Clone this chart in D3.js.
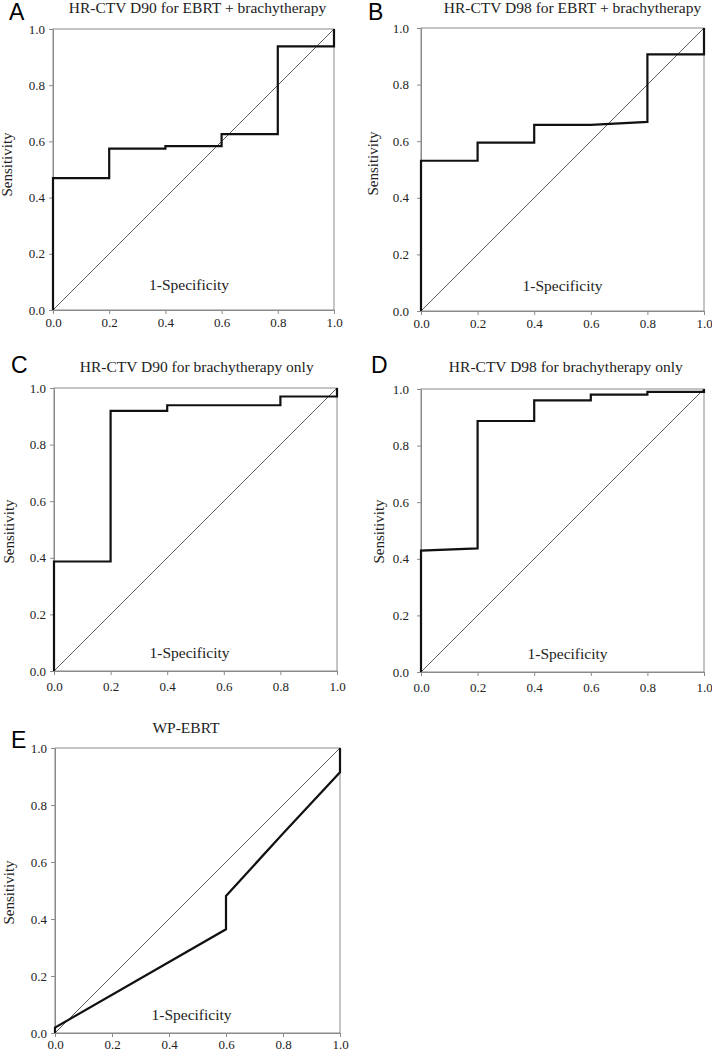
<!DOCTYPE html>
<html><head><meta charset="utf-8">
<script src="https://cdn.jsdelivr.net/npm/d3@7"></script>
<style>body{margin:0;background:#fff} svg{display:block}</style>
</head><body><svg id="c" width="712" height="1053"></svg>
<script>
// ---- data ----
const panelLetters = ["A", "B", "C", "D", "E"];
const panelTitles = [
  "HR-CTV D90 for EBRT + brachytherapy",
  "HR-CTV D98 for EBRT + brachytherapy",
  "HR-CTV D90 for brachytherapy only",
  "HR-CTV D98 for brachytherapy only",
  "WP-EBRT"
];
const yLabel = "Sensitivity";
const xLabel = "1-Specificity";
const tickValues = [0, 0.2, 0.4, 0.6, 0.8, 1.0];
const referenceLine = [[0, 0], [1, 1]];

const rocA = [[0,0],[0,0.469],[0.2,0.469],[0.2,0.574],[0.4,0.574],[0.4,0.583],[0.6,0.583],[0.6,0.626],[0.8,0.626],[0.8,0.938],[1,0.938],[1,1]];
const rocB = [[0,0],[0,0.531],[0.2,0.531],[0.2,0.595],[0.4,0.595],[0.4,0.658],[0.6,0.658],[0.8,0.668],[0.8,0.907],[1,0.907],[1,1]];
const rocC = [[0,0],[0,0.387],[0.2,0.387],[0.2,0.919],[0.4,0.919],[0.4,0.939],[0.8,0.939],[0.8,0.970],[1,0.970],[1,1]];
const rocD = [[0,0],[0,0.429],[0.2,0.437],[0.2,0.887],[0.4,0.887],[0.4,0.960],[0.6,0.960],[0.6,0.980],[0.8,0.980],[0.8,0.990],[1,0.990],[1,1]];
const rocE = [[0,0],[0,0.019],[0.6,0.364],[0.6,0.481],[0.8,0.700],[1,0.915],[1,1]];
const rocSeries = [rocA, rocB, rocC, rocD, rocE];

// ---- layout ----
const layout = [
  {x0:53, x1:334, y0:29, y1:310, tX:197.5, tY:13, lX:9, lY:20, sX:12, sDy:-5, spDx:-4.5, spDy:-20, yPad:4, xPad:4},
  {x0:421, x1:704, y0:28, y1:311, tX:572.5, tY:13, lX:368, lY:20, sX:378, sDy:-6, spDx:0, spDy:-20, yPad:8, xPad:4},
  {x0:54, x1:337, y0:388, y1:671, tX:196.7, tY:372, lX:11, lY:373, sX:14, sDy:2, spDx:-6, spDy:-13, yPad:4, xPad:7},
  {x0:421, x1:704, y0:389, y1:672, tX:565.8, tY:372, lX:371, lY:373, sX:384, sDy:1, spDx:5, spDy:-13.5, yPad:8, xPad:7},
  {x0:55, x1:340, y0:748, y1:1033, tX:186, tY:733, lX:11, lY:748, sX:14, sDy:2, spDx:-6, spDy:-13.5, yPad:4, xPad:3}
];

const svg = d3.select("#c");
const serif = "Liberation Serif, Times New Roman, serif";
const fmt = d3.format(".1f");

rocSeries.forEach((data, i) => {
  const L = layout[i];
  const x = d3.scaleLinear().domain([0, 1]).range([L.x0, L.x1]);
  const y = d3.scaleLinear().domain([0, 1]).range([L.y1, L.y0]);
  const g = svg.append("g");

  // frame
  g.append("rect").attr("x", L.x0).attr("y", L.y0)
    .attr("width", L.x1 - L.x0).attr("height", L.y1 - L.y0)
    .attr("fill", "none").attr("stroke", "#8a8a8a").attr("stroke-width", 1);

  // axes
  const xa = g.append("g").attr("transform", `translate(0,${L.y1})`)
    .call(d3.axisBottom(x).tickValues(tickValues).tickFormat(fmt).tickSizeInner(4).tickSizeOuter(0).tickPadding(L.xPad));
  const ya = g.append("g").attr("transform", `translate(${L.x0},0)`)
    .call(d3.axisLeft(y).tickValues(tickValues).tickFormat(fmt).tickSizeInner(4).tickSizeOuter(0).tickPadding(L.yPad));
  [xa, ya].forEach(a => {
    a.attr("font-family", serif).attr("font-size", 13);
    a.select(".domain").attr("stroke", "#8a8a8a");
    a.selectAll(".tick line").attr("stroke", "#8a8a8a");
    a.selectAll("text").attr("fill", "#222");
  });

  // reference diagonal
  const line = d3.line().x(d => x(d[0])).y(d => y(d[1]));
  g.append("path").attr("d", line(referenceLine))
    .attr("fill", "none").attr("stroke", "#333").attr("stroke-width", 0.8);

  // ROC curve
  g.append("path").attr("d", line(data))
    .attr("fill", "none").attr("stroke", "#111").attr("stroke-width", 2.2)
    .attr("stroke-linejoin", "miter");

  // labels
  g.append("text").attr("x", L.tX).attr("y", L.tY).attr("text-anchor", "middle")
    .attr("font-family", serif).attr("font-size", 15.5).attr("fill", "#222").text(panelTitles[i]);
  g.append("text").attr("x", L.lX).attr("y", L.lY)
    .attr("font-family", "Liberation Sans, Arial, sans-serif").attr("font-size", 23).attr("fill", "#000").text(panelLetters[i]);
  const cy = (L.y0 + L.y1) / 2 + L.sDy;
  g.append("text").attr("transform", `translate(${L.sX},${cy}) rotate(-90)`).attr("text-anchor", "middle")
    .attr("font-family", serif).attr("font-size", 15).attr("fill", "#222").text(yLabel);
  g.append("text").attr("x", (L.x0 + L.x1) / 2 + L.spDx).attr("y", L.y1 + L.spDy).attr("text-anchor", "middle")
    .attr("font-family", serif).attr("font-size", 15.5).attr("fill", "#222").text(xLabel);
});
</script></body></html>
